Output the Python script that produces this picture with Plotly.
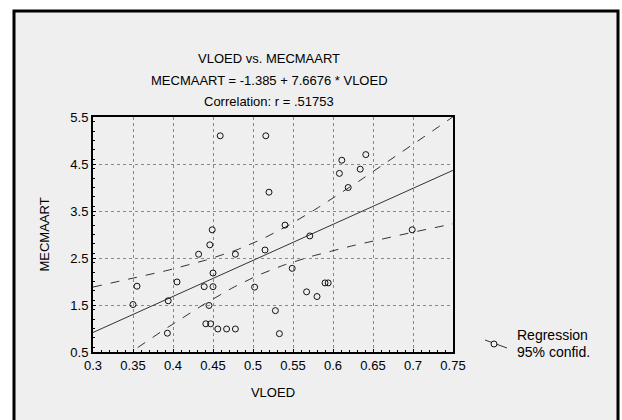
import numpy as np
import plotly.graph_objects as go

vloed = [0.459, 0.516, 0.520, 0.449, 0.446, 0.432, 0.478, 0.515, 0.540, 0.571,
         0.450, 0.405, 0.355, 0.439, 0.450, 0.502, 0.549, 0.394, 0.350, 0.445,
         0.528, 0.567, 0.580, 0.611, 0.641, 0.608, 0.634, 0.619, 0.699, 0.590,
         0.594, 0.393, 0.441, 0.447, 0.456, 0.467, 0.478, 0.533]
mecmaart = [5.10, 5.10, 3.90, 3.10, 2.78, 2.58, 2.58, 2.67, 3.20, 2.97,
            2.18, 1.99, 1.90, 1.89, 1.89, 1.88, 2.28, 1.59, 1.51, 1.49,
            1.38, 1.78, 1.68, 4.58, 4.70, 4.30, 4.39, 4.00, 3.10, 1.97,
            1.97, 0.90, 1.10, 1.10, 0.99, 0.99, 0.99, 0.89]
intercept = -1.385
slope = 7.6676
x_ticks = [0.3, 0.35, 0.4, 0.45, 0.5, 0.55, 0.6, 0.65, 0.7, 0.75]
x_tick_labels = ["0.3", "0.35", "0.4", "0.45", "0.5", "0.55", "0.6", "0.65", "0.7", "0.75"]
y_ticks = [0.5, 1.5, 2.5, 3.5, 4.5, 5.5]
y_tick_labels = ["0.5", "1.5", "2.5", "3.5", "4.5", "5.5"]

x = np.array(vloed)
y = np.array(mecmaart)
n = len(x)
xs = np.linspace(0.3, 0.75, 100)
fit = intercept + slope * xs
resid = y - (intercept + slope * x)
s = np.sqrt(np.sum(resid ** 2) / (n - 2))
sxx = np.sum((x - x.mean()) ** 2)
tval = 2.028
half = tval * s * np.sqrt(1.0 / n + (xs - x.mean()) ** 2 / sxx)

FONT = "Liberation Sans, Arial, sans-serif"
fig = go.Figure()
fig.add_trace(go.Scatter(x=xs, y=fit, mode="lines", line=dict(color="#333333", width=1), showlegend=False))
fig.add_trace(go.Scatter(x=xs, y=fit + half, mode="lines", line=dict(color="#333333", width=1, dash="dash"), showlegend=False))
fig.add_trace(go.Scatter(x=xs, y=fit - half, mode="lines", line=dict(color="#333333", width=1, dash="dash"), showlegend=False))
fig.add_trace(go.Scatter(x=vloed, y=mecmaart, mode="markers",
                         marker=dict(symbol="circle-open", size=6, color="#111111", line=dict(width=1)),
                         showlegend=False))

L, R, T, B = 93, 169, 117, 68
W, H = 622, 420
pw, ph = W - L - R, H - T - B
def px(xp):
    return (xp - L) / pw
def py(yp):
    return (H - B - yp) / ph

# frame with background
fig.add_shape(type="rect", xref="paper", yref="paper", x0=px(14), x1=px(618), y0=py(430), y1=py(11),
              line=dict(color="black", width=3), fillcolor="#efefef", layer="below")
# legend symbol
fig.add_shape(type="line", xref="paper", yref="paper", x0=px(485), y0=py(340), x1=px(507), y1=py(348),
              line=dict(color="#333333", width=1))
fig.add_shape(type="circle", xref="paper", yref="paper", x0=px(491), y0=py(341), x1=px(497), y1=py(347),
              line=dict(color="#111111", width=1), fillcolor="#efefef")
fig.add_annotation(xref="paper", yref="paper", x=px(515), y=py(345), text="Regression", showarrow=False,
                   xanchor="left", font=dict(family=FONT, size=14, color="black"))
fig.add_annotation(xref="paper", yref="paper", x=px(515), y=py(362), text="95% confid.", showarrow=False,
                   xanchor="left", font=dict(family=FONT, size=14, color="black"))
# titles
for txt, yy in [("VLOED vs. MECMAART", 49), ("MECMAART = -1.385 + 7.6676 * VLOED", 71),
                ("Correlation: r = .51753", 92)]:
    fig.add_annotation(xref="paper", yref="paper", x=px(269), y=py(yy), text=txt, showarrow=False,
                       font=dict(family=FONT, size=13, color="black"))

axis_common = dict(showline=True, linecolor="black", linewidth=2, mirror=True,
                   showgrid=True, gridcolor="#888888", griddash="dot", gridwidth=1,
                   ticks="inside", ticklen=3, tickcolor="black", zeroline=False,
                   tickfont=dict(family=FONT, size=13, color="black"))
fig.update_xaxes(range=[0.3, 0.75], tickvals=x_ticks, ticktext=x_tick_labels,
                 minor=dict(ticks="inside", ticklen=2, dtick=0.01, tickcolor="black", showgrid=False),
                 title=dict(text="VLOED", font=dict(family=FONT, size=13, color="black"), standoff=16),
                 **axis_common)
fig.update_yaxes(range=[0.5, 5.5], tickvals=y_ticks, ticktext=y_tick_labels,
                 minor=dict(ticks="inside", ticklen=2, dtick=0.2, tickcolor="black", showgrid=False),
                 title=dict(text="MECMAART", font=dict(family=FONT, size=13, color="black"), standoff=18),
                 **axis_common)
fig.update_layout(width=W, height=H, margin=dict(l=L, r=R, t=T, b=B, autoexpand=False),
                  paper_bgcolor="white", plot_bgcolor="white", showlegend=False)
fig.write_html("out.html")
